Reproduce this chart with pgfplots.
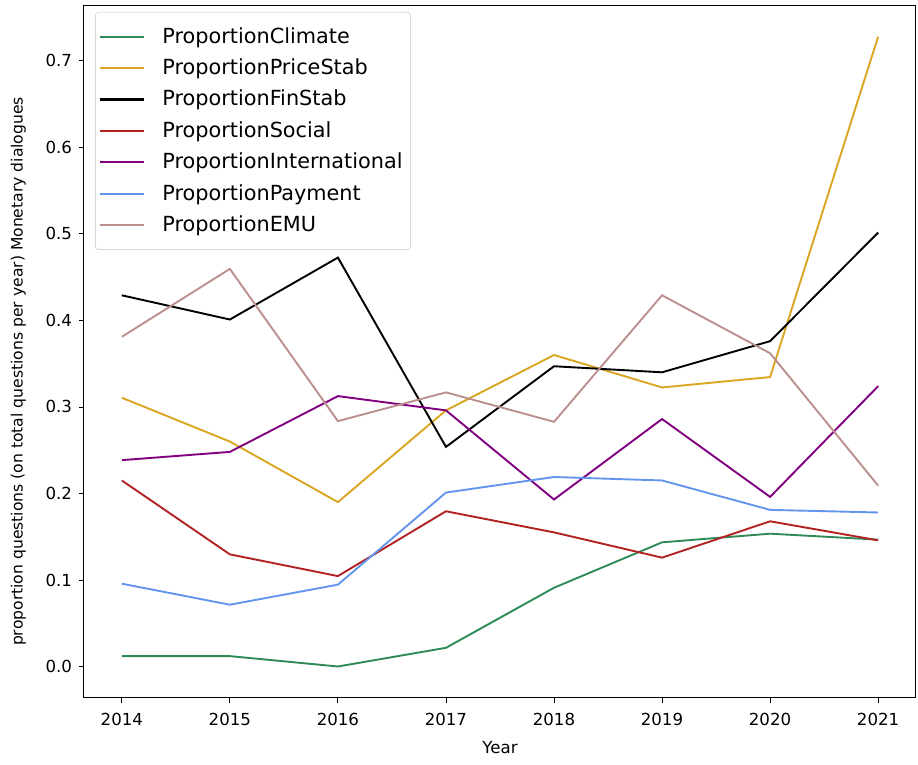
\documentclass[border=0pt]{standalone}
\usepackage{fontspec}
\setmainfont{DejaVu Sans}
\setsansfont{DejaVu Sans}
\usepackage{pgfplots}
\pgfplotsset{compat=1.18}
\definecolor{cClimate}{HTML}{2E8B57}
\definecolor{cPrice}{HTML}{DAA520}
\definecolor{cSocial}{HTML}{B22222}
\definecolor{cIntl}{HTML}{800080}
\definecolor{cPay}{HTML}{6495ED}
\definecolor{cEMU}{HTML}{BC8F8F}
\begin{document}
\begin{tikzpicture}
\path[use as bounding box] (-42pt,-33.5pt) rectangle (417pt,349pt);
\begin{axis}[
  scale only axis,
  width=416pt, height=346.5pt,
  at={(0,0)}, anchor=south west,
  xmin=2013.65, xmax=2021.35,
  ymin=-0.0364, ymax=0.7645,
  xtick={2014,...,2021},
  ytick={0,0.1,...,0.7},
  xticklabel style={/pgf/number format/1000 sep={}, yshift=-1.5pt},
  yticklabel style={/pgf/number format/fixed,/pgf/number format/fixed zerofill,/pgf/number format/precision=1},
  /pgf/number format/assume math mode=true,
  tick align=outside,
  major tick length=2.5pt,
  tick style={black, line width=0.4pt},
  xtick pos=bottom, ytick pos=left,
  ticklabel style={font=\fontsize{8.3}{10}\selectfont},
  xlabel={Year},
  xlabel style={font=\fontsize{8.3}{10}\selectfont, yshift=-1pt},
  ylabel={\fontsize{7.8}{9}\selectfont proportion questions (on total questions per year) Monetary dialogues},
  ylabel style={yshift=3pt, xshift=-10pt},
  axis line style={line width=0.5pt},
  every axis plot/.append style={line width=0.95pt, mark=none},
  legend cell align=left,
  legend style={at={(0.0132,0.99)}, anchor=north west, draw=black!15, rounded corners=1.5pt,
    font=\fontsize{10.4}{12.5}\selectfont, row sep=2.3pt, inner xsep=2pt, inner ysep=5.5pt},
  legend image code/.code={\draw[#1, line width=1.1pt] (0pt,0pt) -- (22pt,0pt); \path (28.5pt,0pt) coordinate (legendpad);},
]
\addplot[cClimate] coordinates {(2014,0.012) (2015,0.012) (2016,0.000) (2017,0.0216) (2018,0.091) (2019,0.1435) (2020,0.1535) (2021,0.1466)};
\addlegendentry{ProportionClimate}
\addplot[cPrice] coordinates {(2014,0.3106) (2015,0.260) (2016,0.190) (2017,0.296) (2018,0.360) (2019,0.3225) (2020,0.3345) (2021,0.728)};
\addlegendentry{ProportionPriceStab}
\addplot[black] coordinates {(2014,0.429) (2015,0.401) (2016,0.4726) (2017,0.2538) (2018,0.347) (2019,0.340) (2020,0.376) (2021,0.5015)};
\addlegendentry{ProportionFinStab}
\addplot[cSocial] coordinates {(2014,0.215) (2015,0.1296) (2016,0.1045) (2017,0.1794) (2018,0.155) (2019,0.1258) (2020,0.1678) (2021,0.1458)};
\addlegendentry{ProportionSocial}
\addplot[cIntl] coordinates {(2014,0.2385) (2015,0.248) (2016,0.3125) (2017,0.296) (2018,0.193) (2019,0.286) (2020,0.196) (2021,0.324)};
\addlegendentry{ProportionInternational}
\addplot[cPay] coordinates {(2014,0.0957) (2015,0.0714) (2016,0.0946) (2017,0.201) (2018,0.219) (2019,0.215) (2020,0.181) (2021,0.178)};
\addlegendentry{ProportionPayment}
\addplot[cEMU] coordinates {(2014,0.381) (2015,0.4595) (2016,0.2836) (2017,0.3168) (2018,0.2828) (2019,0.429) (2020,0.362) (2021,0.209)};
\addlegendentry{ProportionEMU}
\end{axis}
\end{tikzpicture}
\end{document}
